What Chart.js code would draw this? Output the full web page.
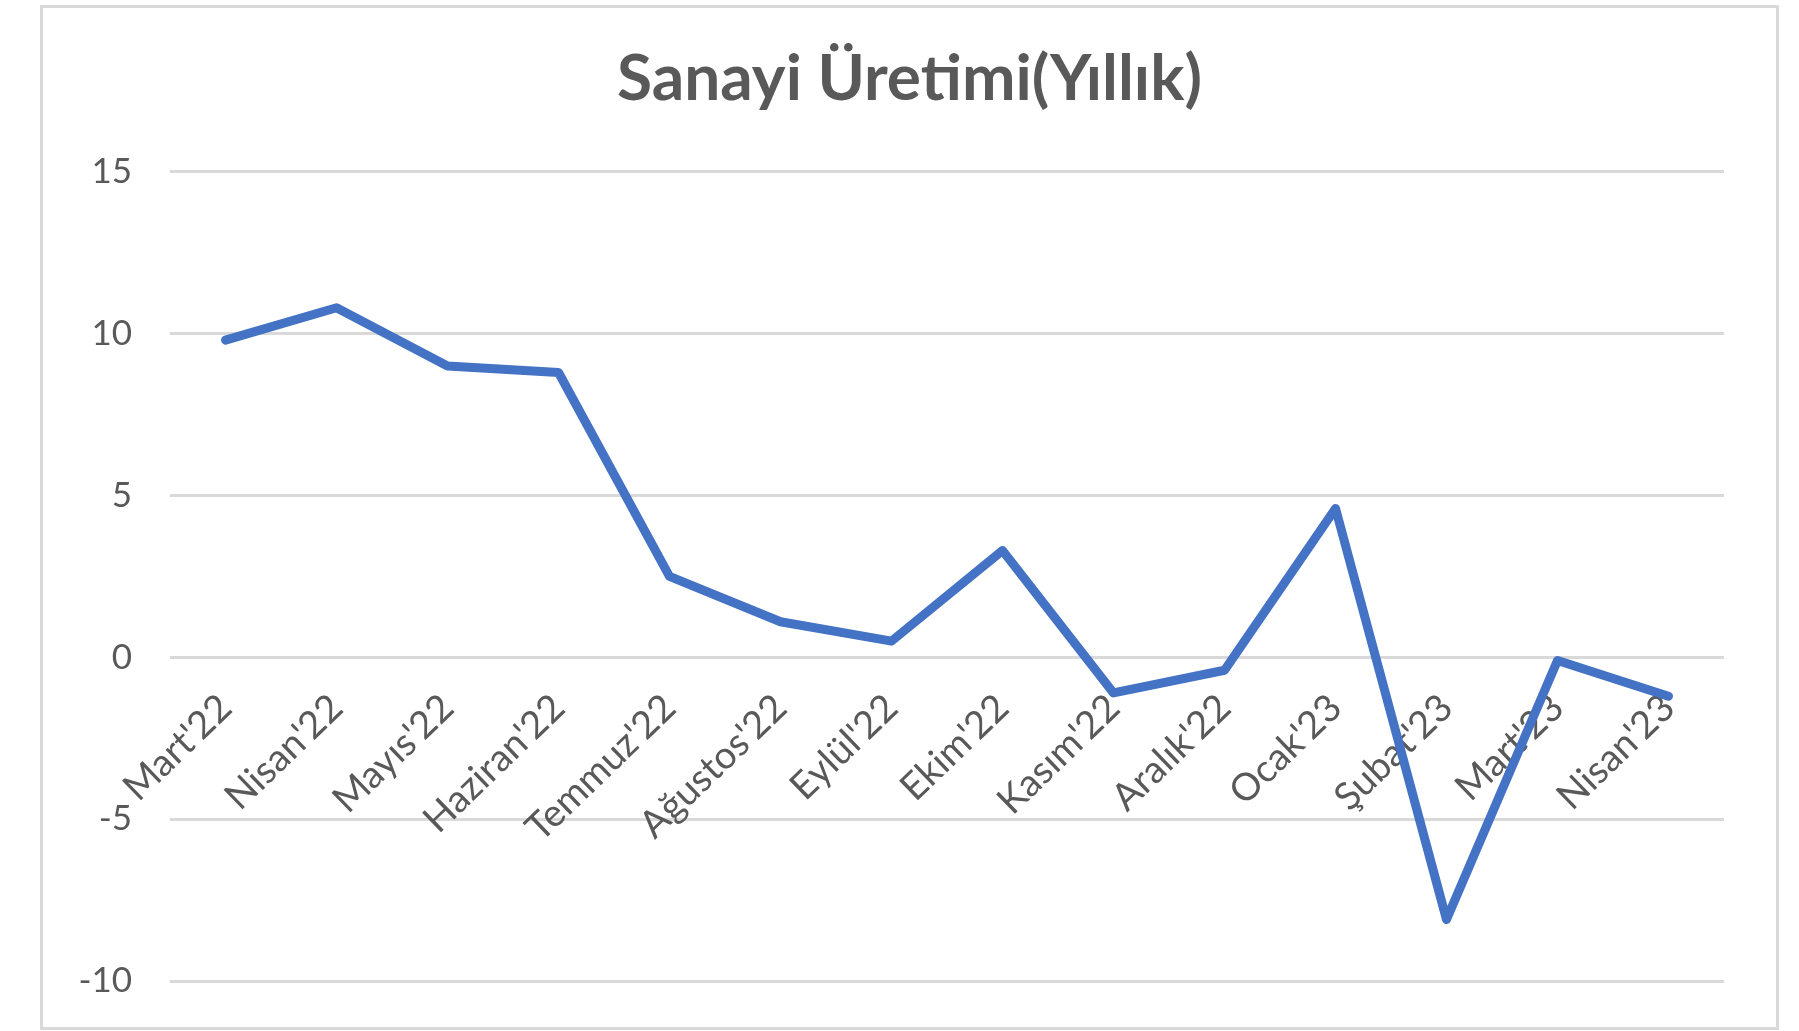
<!DOCTYPE html>
<html>
<head>
<meta charset="utf-8">
<script src="https://cdn.jsdelivr.net/npm/chart.js@4.4.0/dist/chart.umd.min.js"></script>
<style>
  html, body { margin: 0; background: #fff; }
  #box { position: absolute; left: 40px; top: 5px; width: 1733px; height: 1019px; border: 3px solid #d9d9d9; }
  canvas { display: block; }
</style>
</head>
<body>
<div id="box"><canvas id="chart" width="1733" height="1019"></canvas></div>
<script>
const months = ["Mart'22", "Nisan'22", "Mayıs'22", "Haziran'22", "Temmuz'22", "Ağustos'22", "Eylül'22",
  "Ekim'22", "Kasım'22", "Aralık'22", "Ocak'23", "Şubat'23", "Mart'23", "Nisan'23"];
const uretim = [9.8, 10.8, 9.0, 8.8, 2.5, 1.1, 0.5, 3.3, -1.1, -0.4, 4.6, -8.1, -0.1, -1.2];
const yMin = -10;
const yMax = 15;
const yStep = 5;

const textColor = '#595959';
const gridColor = '#d9d9d9';

new Chart(document.getElementById('chart'), {
  type: 'line',
  data: {
    labels: months,
    datasets: [{
      label: 'Sanayi Üretimi',
      data: uretim,
      borderColor: '#4472C4',
      borderWidth: 9,
      pointRadius: 0,
      borderCapStyle: 'round',
      borderJoinStyle: 'round',
      tension: 0
    }]
  },
  options: {
    responsive: false,
    animation: false,
    layout: { padding: { left: 0, right: 0, bottom: 46, top: 0 } },
    plugins: {
      legend: { display: false },
      tooltip: { enabled: false },
      title: {
        display: true,
        text: 'Sanayi Üretimi(Yıllık)',
        color: textColor,
        font: { family: 'Lato', size: 64, weight: 'bold' },
        padding: { top: 33, bottom: 54 }
      }
    },
    scales: {
      x: {
        position: { y: 0 },
        offset: true,
        grid: { display: false },
        border: { display: false },
        ticks: {
          color: textColor,
          font: { family: 'Lato', size: 38 },
          minRotation: 44,
          maxRotation: 44,
          autoSkip: false,
          padding: 20
        }
      },
      y: {
        min: yMin,
        max: yMax,
        // invisible tick marks push the labels away from the plot
        grid: { color: gridColor, lineWidth: 3, tickColor: 'transparent', tickLength: 35 },
        border: { display: false },
        ticks: {
          stepSize: yStep,
          color: textColor,
          font: { family: 'Lato', size: 35 },
          padding: 3
        },
        afterFit: s => { s.width = 127; }
      },
      // empty right axis, only keeps the right margin so the title stays centred
      yRight: {
        position: 'right',
        grid: { display: false },
        border: { display: false },
        ticks: { display: false },
        afterFit: s => { s.width = 52; }
      }
    }
  }
});
</script>
</body>
</html>
